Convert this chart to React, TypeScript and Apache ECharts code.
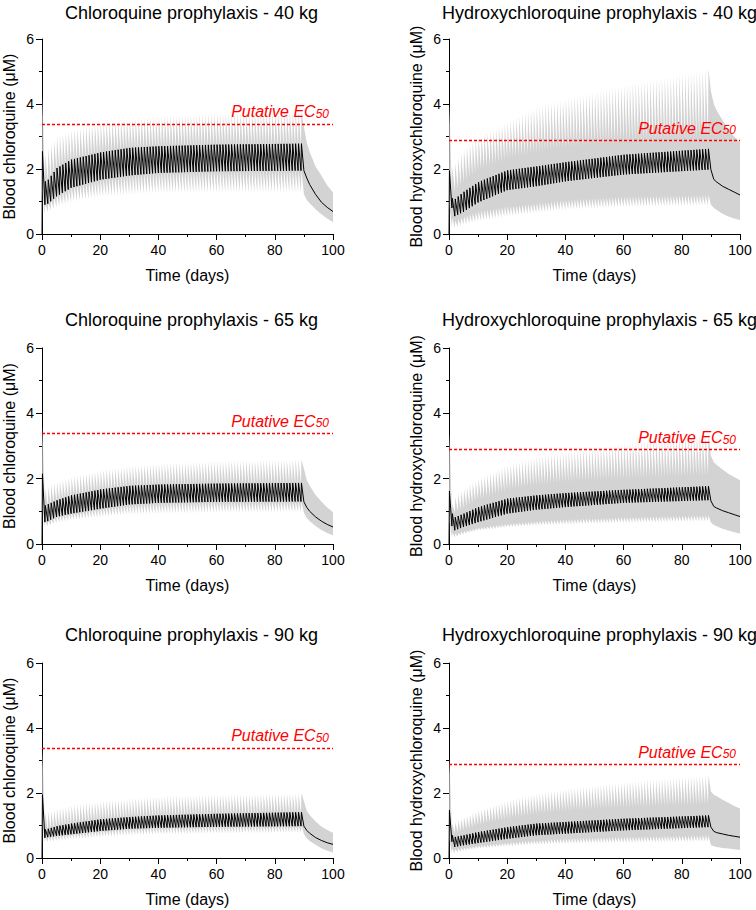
import React, { useEffect, useRef } from "react";
import * as echarts from "echarts";

// ---------- data ----------
// Envelope values at these dosing days (one dose per day, days 0..89)
const keyDays = [0, 1, 2, 5, 10, 20, 30, 40, 60, 89];
// Wash-out after the last dose
const tailDays = [90, 91, 92, 94, 96, 98, 100];

const xTicks = [0, 20, 40, 60, 80, 100];
const yTicks = [0, 2, 4, 6];

const titles = [
  "Chloroquine prophylaxis - 40 kg",
  "Hydroxychloroquine prophylaxis - 40 kg",
  "Chloroquine prophylaxis - 65 kg",
  "Hydroxychloroquine prophylaxis - 65 kg",
  "Chloroquine prophylaxis - 90 kg",
  "Hydroxychloroquine prophylaxis - 90 kg",
];
const yNames = ["Blood chloroquine (\u03bcM)", "Blood hydroxychloroquine (\u03bcM)"];
const xName = "Time (days)";
const ec50Values = [3.39, 2.89]; // chloroquine, hydroxychloroquine

// Chloroquine 40 kg
const cq40MedTrough = [0, 0.9, 0.93, 1.16, 1.42, 1.67, 1.8, 1.88, 1.93, 1.95];
const cq40MedPeak = [2.54, 1.62, 1.67, 2.03, 2.29, 2.51, 2.65, 2.7, 2.75, 2.78];
const cq40HiTrough = [0, 1.5, 1.6, 1.95, 2.2, 2.45, 2.58, 2.63, 2.68, 2.7];
const cq40HiPeak = [4.24, 2.45, 2.65, 3.0, 3.2, 3.44, 3.55, 3.62, 3.72, 3.77];
const cq40LoTrough = [0, 0.62, 0.68, 0.83, 0.98, 1.14, 1.21, 1.26, 1.28, 1.28];
const cq40LoPeak = [1.3, 0.95, 0.98, 1.2, 1.45, 1.7, 1.83, 1.9, 1.95, 1.97];
const cq40TailMed = [1.95, 1.72, 1.52, 1.22, 0.98, 0.82, 0.69];
const cq40TailHi = [3.3, 2.8, 2.52, 2.08, 1.8, 1.5, 1.28];
const cq40TailLo = [1.22, 1.05, 0.95, 0.76, 0.61, 0.48, 0.36];

// Hydroxychloroquine 40 kg
const hcq40MedTrough = [0, 0.8, 0.55, 0.68, 0.97, 1.35, 1.47, 1.62, 1.83, 1.98];
const hcq40MedPeak = [1.95, 1.1, 1.08, 1.3, 1.6, 1.96, 2.08, 2.21, 2.44, 2.62];
const hcq40HiTrough = [0, 1.2, 1.3, 1.6, 1.95, 2.3, 2.5, 2.65, 2.85, 2.98];
const hcq40HiPeak = [4.0, 2.1, 2.2, 2.6, 3.0, 3.45, 3.93, 4.18, 4.6, 5.08];
const hcq40LoTrough = [0, 0.2, 0.18, 0.29, 0.39, 0.54, 0.65, 0.75, 0.83, 0.88];
const hcq40LoPeak = [0.9, 0.5, 0.42, 0.55, 0.7, 0.85, 0.95, 1.05, 1.15, 1.2];
const hcq40TailMed = [1.98, 1.68, 1.6, 1.47, 1.38, 1.29, 1.2];
const hcq40TailHi = [4.4, 4.0, 3.8, 3.5, 3.22, 3.0, 2.83];
const hcq40TailLo = [0.9, 0.8, 0.74, 0.62, 0.54, 0.48, 0.43];

// Chloroquine 65 kg
const cq65MedTrough = [0, 0.67, 0.7, 0.83, 0.93, 1.08, 1.21, 1.26, 1.29, 1.3];
const cq65MedPeak = [2.15, 1.18, 1.22, 1.34, 1.49, 1.67, 1.78, 1.82, 1.85, 1.87];
const cq65HiTrough = [0, 1.1, 1.15, 1.28, 1.42, 1.6, 1.72, 1.76, 1.8, 1.82];
const cq65HiPeak = [3.6, 1.69, 1.75, 1.9, 2.05, 2.26, 2.39, 2.46, 2.54, 2.58];
const cq65LoTrough = [0, 0.52, 0.55, 0.64, 0.72, 0.83, 0.9, 0.93, 0.96, 0.98];
const cq65LoPeak = [1.1, 0.7, 0.73, 0.85, 0.95, 1.1, 1.22, 1.27, 1.3, 1.31];
const cq65TailMed = [1.29, 1.12, 1.0, 0.83, 0.7, 0.6, 0.52];
const cq65TailHi = [2.3, 1.95, 1.78, 1.5, 1.3, 1.12, 0.97];
const cq65TailLo = [0.95, 0.8, 0.7, 0.55, 0.43, 0.34, 0.27];

// Hydroxychloroquine 65 kg
const hcq65MedTrough = [0, 0.55, 0.42, 0.52, 0.67, 0.93, 1.05, 1.13, 1.26, 1.34];
const hcq65MedPeak = [1.62, 0.93, 0.82, 0.93, 1.13, 1.39, 1.49, 1.56, 1.66, 1.77];
const hcq65HiTrough = [0, 0.95, 0.95, 1.1, 1.35, 1.65, 1.8, 1.9, 2.0, 2.1];
const hcq65HiPeak = [3.38, 1.24, 1.44, 1.7, 2.0, 2.41, 2.67, 2.82, 3.08, 3.38];
const hcq65LoTrough = [0, 0.2, 0.2, 0.3, 0.41, 0.51, 0.57, 0.6, 0.65, 0.7];
const hcq65LoPeak = [0.7, 0.35, 0.32, 0.4, 0.5, 0.62, 0.7, 0.75, 0.82, 0.88];
const hcq65TailMed = [1.32, 1.15, 1.1, 1.02, 0.96, 0.9, 0.84];
const hcq65TailHi = [2.7, 2.5, 2.42, 2.28, 2.15, 2.05, 1.95];
const hcq65TailLo = [0.66, 0.58, 0.54, 0.47, 0.41, 0.36, 0.32];

// Chloroquine 90 kg
const cq90MedTrough = [0, 0.62, 0.64, 0.68, 0.73, 0.83, 0.9, 0.93, 0.96, 0.98];
const cq90MedPeak = [1.95, 0.88, 0.9, 0.98, 1.06, 1.19, 1.26, 1.31, 1.36, 1.41];
const cq90HiTrough = [0, 0.82, 0.84, 0.92, 1.0, 1.12, 1.2, 1.25, 1.3, 1.35];
const cq90HiPeak = [3.34, 1.39, 1.42, 1.51, 1.62, 1.75, 1.83, 1.9, 1.95, 1.99];
const cq90LoTrough = [0, 0.47, 0.49, 0.52, 0.57, 0.64, 0.7, 0.73, 0.76, 0.78];
const cq90LoPeak = [1.0, 0.65, 0.67, 0.71, 0.76, 0.86, 0.93, 0.96, 0.99, 1.01];
const cq90TailMed = [0.98, 0.85, 0.76, 0.63, 0.54, 0.47, 0.42];
const cq90TailHi = [1.75, 1.45, 1.32, 1.12, 0.97, 0.86, 0.78];
const cq90TailLo = [0.74, 0.6, 0.52, 0.41, 0.3, 0.22, 0.17];

// Hydroxychloroquine 90 kg
const hcq90MedTrough = [0, 0.5, 0.34, 0.39, 0.46, 0.59, 0.7, 0.75, 0.85, 0.95];
const hcq90MedPeak = [1.47, 0.7, 0.65, 0.7, 0.8, 0.95, 1.06, 1.11, 1.21, 1.31];
const hcq90HiTrough = [0, 0.75, 0.75, 0.85, 1.0, 1.2, 1.35, 1.45, 1.55, 1.65];
const hcq90HiPeak = [3.1, 1.06, 1.11, 1.26, 1.47, 1.77, 1.98, 2.13, 2.34, 2.56];
const hcq90LoTrough = [0, 0.13, 0.15, 0.22, 0.29, 0.36, 0.41, 0.44, 0.47, 0.51];
const hcq90LoPeak = [0.6, 0.3, 0.28, 0.32, 0.38, 0.48, 0.55, 0.6, 0.65, 0.7];
const hcq90TailMed = [0.95, 0.82, 0.78, 0.74, 0.7, 0.67, 0.64];
const hcq90TailHi = [2.05, 1.95, 1.9, 1.79, 1.7, 1.6, 1.52];
const hcq90TailLo = [0.4, 0.36, 0.34, 0.31, 0.29, 0.27, 0.25];

const panels = [
  { drug: 0, medT: cq40MedTrough, medP: cq40MedPeak, hiT: cq40HiTrough, hiP: cq40HiPeak, loT: cq40LoTrough, loP: cq40LoPeak, tMed: cq40TailMed, tHi: cq40TailHi, tLo: cq40TailLo },
  { drug: 1, medT: hcq40MedTrough, medP: hcq40MedPeak, hiT: hcq40HiTrough, hiP: hcq40HiPeak, loT: hcq40LoTrough, loP: hcq40LoPeak, tMed: hcq40TailMed, tHi: hcq40TailHi, tLo: hcq40TailLo },
  { drug: 0, medT: cq65MedTrough, medP: cq65MedPeak, hiT: cq65HiTrough, hiP: cq65HiPeak, loT: cq65LoTrough, loP: cq65LoPeak, tMed: cq65TailMed, tHi: cq65TailHi, tLo: cq65TailLo },
  { drug: 1, medT: hcq65MedTrough, medP: hcq65MedPeak, hiT: hcq65HiTrough, hiP: hcq65HiPeak, loT: hcq65LoTrough, loP: hcq65LoPeak, tMed: hcq65TailMed, tHi: hcq65TailHi, tLo: hcq65TailLo },
  { drug: 0, medT: cq90MedTrough, medP: cq90MedPeak, hiT: cq90HiTrough, hiP: cq90HiPeak, loT: cq90LoTrough, loP: cq90LoPeak, tMed: cq90TailMed, tHi: cq90TailHi, tLo: cq90TailLo },
  { drug: 1, medT: hcq90MedTrough, medP: hcq90MedPeak, hiT: hcq90HiTrough, hiP: hcq90HiPeak, loT: hcq90LoTrough, loP: hcq90LoPeak, tMed: hcq90TailMed, tHi: hcq90TailHi, tLo: hcq90TailLo },
];

// ---------- layout / style ----------
const FONT = "'Liberation Sans', Arial, Helvetica, sans-serif";
const LAST_DOSE = 89;
const PEAK_OFFSET = 0.15;
const BAND_COLOR = "#d3d3d3";
const RED = "#ff0000";
const colBox = [
  { left: 40, width: 293 },
  { left: 449, width: 291 },
];
const rowBox = [
  { top: 39, height: 195, titleTop: -1 },
  { top: 348, height: 196, titleTop: 306 },
  { top: 663, height: 195, titleTop: 621 },
];

function envAt(vals: number[], day: number): number {
  for (let i = 0; i < keyDays.length - 1; i++) {
    if (day <= keyDays[i + 1]) {
      const t = (day - keyDays[i]) / (keyDays[i + 1] - keyDays[i]);
      return vals[i] + t * (vals[i + 1] - vals[i]);
    }
  }
  return vals[vals.length - 1];
}

function dosingCurve(trough: number[], peak: number[], tail: number[]): number[][] {
  const pts: number[][] = [];
  for (let d = 0; d <= LAST_DOSE; d++) {
    pts.push([d, envAt(trough, d)]);
    pts.push([d + PEAK_OFFSET, envAt(peak, d)]);
  }
  tailDays.forEach((d, i) => pts.push([d, tail[i]]));
  return pts;
}

function buildOption() {
  const grid: any[] = [];
  const xAxis: any[] = [];
  const yAxis: any[] = [];
  const title: any[] = [];
  const series: any[] = [];

  panels.forEach((p, i) => {
    const col = i % 2;
    const row = Math.floor(i / 2);
    const cb = colBox[col];
    const rb = rowBox[row];
    grid.push({ left: cb.left, top: rb.top, width: cb.width, height: rb.height, containLabel: false });
    title.push({
      text: titles[i],
      left: cb.left + cb.width / 2,
      top: rb.titleTop,
      textAlign: "center",
      textStyle: { fontSize: 18, fontWeight: "normal", color: "#000", fontFamily: FONT },
    });
    const axisCommon = {
      gridIndex: i,
      type: "value",
      nameLocation: "middle",
      nameTextStyle: { fontSize: 16, color: "#000", fontFamily: FONT },
      axisLine: { show: true, onZero: false, lineStyle: { color: "#000", width: 1 } },
      axisTick: { show: true, length: 6, lineStyle: { color: "#000", width: 1 } },
      minorTick: { show: true, splitNumber: 2, length: 3, lineStyle: { color: "#000", width: 1 } },
      splitLine: { show: false },
      minorSplitLine: { show: false },
    };
    xAxis.push({
      ...axisCommon,
      min: xTicks[0],
      max: xTicks[xTicks.length - 1],
      interval: xTicks[1] - xTicks[0],
      name: xName,
      nameGap: 33,
      axisLabel: { fontSize: 14, color: "#000", margin: 9, fontFamily: FONT },
    });
    yAxis.push({
      ...axisCommon,
      min: yTicks[0],
      max: yTicks[yTicks.length - 1],
      interval: yTicks[1] - yTicks[0],
      name: yNames[p.drug],
      nameGap: 25,
      axisLabel: { fontSize: 14, color: "#000", margin: 8, fontFamily: FONT },
    });

    const lo = dosingCurve(p.loT, p.loP, p.tLo);
    const hi = dosingCurve(p.hiT, p.hiP, p.tHi);
    const med = dosingCurve(p.medT, p.medP, p.tMed);

    // Grey band: one polygon between the upper and lower dosing curves
    series.push({
      type: "custom",
      coordinateSystem: "cartesian2d",
      xAxisIndex: i,
      yAxisIndex: i,
      data: [[0, 0]],
      silent: true,
      z: 1,
      renderItem: (_params: any, api: any) => {
        const pts = hi.map((pt) => api.coord(pt)).concat(lo.slice().reverse().map((pt) => api.coord(pt)));
        return {
          type: "polygon",
          shape: { points: pts },
          style: { fill: BAND_COLOR, stroke: null },
        };
      },
    });
    // Median concentration
    series.push({
      type: "line",
      xAxisIndex: i,
      yAxisIndex: i,
      data: med,
      symbol: "none",
      silent: true,
      lineStyle: { color: "#000", width: 1 },
      z: 3,
      markLine: {
        silent: true,
        symbol: ["none", "none"],
        lineStyle: { color: RED, type: [3, 2], width: 1.4, opacity: 1 },
        label: {
          show: true,
          position: "insideEndTop",
          distance: 4,
          formatter: "{a|Putative EC}{b|50}",
          rich: {
            a: { fontSize: 16, fontStyle: "italic", color: RED, fontFamily: FONT, lineHeight: 16, verticalAlign: "top" },
            b: { fontSize: 12, fontStyle: "italic", color: RED, fontFamily: FONT, lineHeight: 12, verticalAlign: "bottom", padding: [8, 0, 0, 0] },
          },
        },
        data: [{ yAxis: ec50Values[p.drug] }],
      },
    });
  });

  return {
    animation: false,
    backgroundColor: "#fff",
    textStyle: { fontFamily: FONT },
    title,
    grid,
    xAxis,
    yAxis,
    series,
  };
}

export default function App() {
  const ref = useRef<HTMLDivElement>(null);
  useEffect(() => {
    if (!ref.current) return;
    const chart = echarts.init(ref.current, undefined, { renderer: "svg" });
    chart.setOption(buildOption() as any);
    return () => chart.dispose();
  }, []);
  return (
    <div
      ref={ref}
      style={{ position: "absolute", left: 0, top: 0, width: 756, height: 910, background: "#fff" }}
    />
  );
}
